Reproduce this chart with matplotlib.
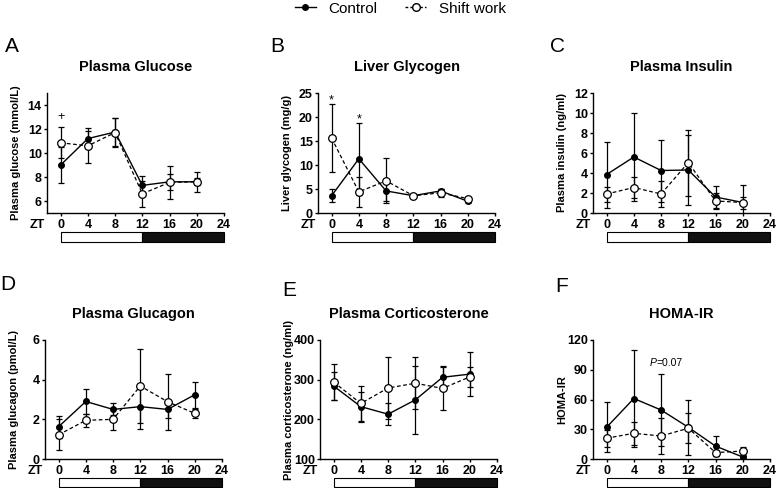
import matplotlib
matplotlib.use('Agg')
from matplotlib import pyplot as plt
from matplotlib.patches import Rectangle
from matplotlib.lines import Line2D
import matplotlib.transforms as mtransforms

plt.rcParams['font.family'] = ['Liberation Sans', 'DejaVu Sans']

# time points (ZT) and the six measured parameters: mean and SD per group
zt = [0, 4, 8, 12, 16, 20]
zt_ticks = [0, 4, 8, 12, 16, 20, 24]

glucose_ctrl = [9.0, 11.2, 11.75, 7.3, 7.6, 7.6]
glucose_ctrl_sd = [1.5, 0.6, 1.2, 0.8, 0.65, 0.3]
glucose_shift = [10.85, 10.6, 11.7, 6.6, 7.55, 7.6]
glucose_shift_sd = [1.3, 1.45, 1.2, 1.1, 1.4, 0.85]

glycogen_ctrl = [3.6, 11.3, 4.6, 3.6, 4.6, 2.45]
glycogen_ctrl_sd = [1.3, 7.5, 2.2, 0.3, 0.5, 0.3]
glycogen_shift = [15.6, 4.4, 6.7, 3.6, 4.2, 3.0]
glycogen_shift_sd = [7.1, 3.1, 4.7, 0.3, 0.8, 0.3]

insulin_ctrl = [3.85, 5.6, 4.25, 4.3, 1.6, 1.05]
insulin_ctrl_sd = [3.3, 4.4, 3.1, 3.5, 1.1, 0.6]
insulin_shift = [1.9, 2.55, 1.9, 5.05, 1.2, 1.05]
insulin_shift_sd = [0.75, 1.05, 1.3, 3.3, 0.8, 1.75]

glucagon_ctrl = [1.63, 2.9, 2.5, 2.64, 2.5, 3.24]
glucagon_ctrl_sd = [0.55, 0.65, 0.3, 1.14, 0.42, 0.66]
glucagon_shift = [1.22, 1.95, 2.0, 3.68, 2.89, 2.3]
glucagon_shift_sd = [0.78, 0.33, 0.54, 1.85, 1.42, 0.23]

cort_ctrl = [284, 232, 213, 249, 306, 314]
cort_ctrl_sd = [35, 38, 27, 85, 28, 56]
cort_shift = [294, 240, 279, 291, 278, 307]
cort_shift_sd = [46, 43, 78, 65, 54, 25]

homa_ctrl = [32, 61, 49.4, 32, 13, 2]
homa_ctrl_sd = [25, 49, 36, 28, 10, 1.5]
homa_shift = [21, 25.9, 23.2, 31, 6.5, 8]
homa_shift_sd = [8.6, 11.7, 18, 15, 3, 4]

W, H = 777, 488
fig = plt.figure(figsize=(W / 100, H / 100), dpi=100)


def make_axes(left, top, w=177, h=120):
    # axes placed in pixel units of the reference
    return fig.add_axes([left / W, 1 - (top + h) / H, w / W, h / H])


def draw_panel(ax, title, ylabel, ylim, yticks, ctrl, ctrl_sd, shift, shift_sd):
    ax.errorbar(zt, ctrl, yerr=ctrl_sd, fmt='o-', color='black', ms=4, lw=1.0,
                elinewidth=0.9, capsize=2.5, capthick=0.9, zorder=3)
    ax.errorbar(zt, shift, yerr=shift_sd, fmt='o--', color='black', mfc='white',
                mec='black', ms=5.5, mew=0.9, lw=0.9, dashes=(3, 2),
                elinewidth=0.9, capsize=2.5, capthick=0.9, zorder=4)
    ax.set_xlim(-2, 24)
    ax.set_ylim(*ylim)
    ax.set_xticks(zt_ticks)
    ax.set_yticks(yticks)
    for s in ['top', 'right']:
        ax.spines[s].set_visible(False)
    for s in ['left', 'bottom']:
        ax.spines[s].set_linewidth(1.0)
    ax.tick_params(axis='both', direction='out', length=2.5, width=1.0, labelsize=9)
    ax.tick_params(axis='y', pad=1.2)
    ax.tick_params(axis='x', pad=2)
    for lab in ax.get_xticklabels() + ax.get_yticklabels():
        lab.set_fontweight('bold')
    ax.set_title(title, fontsize=10.5, fontweight='bold', pad=16)
    ax.set_ylabel(ylabel, fontsize=8, fontweight='bold')
    ax.yaxis.set_label_coords(-0.145, 0.5)
    # "ZT" next to the x tick labels
    ax.annotate('ZT', xy=(0, 0), xycoords='axes fraction', xytext=(-7, -4.5),
                textcoords='offset points', ha='center', va='top',
                fontsize=9, fontweight='bold')
    # light / dark bar under the x axis
    trans = mtransforms.blended_transform_factory(ax.transData, ax.transAxes)
    ax.add_patch(Rectangle((0, -0.239), 12, 0.078, facecolor='white', edgecolor='black',
                           lw=0.8, transform=trans, clip_on=False))
    ax.add_patch(Rectangle((12, -0.239), 12, 0.078, facecolor='#111111', edgecolor='black',
                           lw=0.8, transform=trans, clip_on=False))


def mark(ax, x, y, s, drop):
    # drop: points from glyph centre to baseline
    ax.annotate(s, xy=(x, y), xytext=(0, -drop), textcoords='offset points',
                ha='center', va='baseline', fontsize=9)


axA = make_axes(47, 93)
draw_panel(axA, 'Plasma Glucose', 'Plasma glucose (mmol/L)', (5, 15), [6, 8, 10, 12, 14],
           glucose_ctrl, glucose_ctrl_sd, glucose_shift, glucose_shift_sd)
mark(axA, 0, 13.15, '+', 3.2)

axB = make_axes(318, 93)
draw_panel(axB, 'Liver Glycogen', 'Liver glycogen (mg/g)', (0, 25), [0, 5, 10, 15, 20, 25],
           glycogen_ctrl, glycogen_ctrl_sd, glycogen_shift, glycogen_shift_sd)
mark(axB, 0, 24.4, '*', 5.3)
mark(axB, 4, 20.4, '*', 5.3)

axC = make_axes(593, 93)
draw_panel(axC, 'Plasma Insulin', 'Plasma insulin (ng/ml)', (0, 12), [0, 2, 4, 6, 8, 10, 12],
           insulin_ctrl, insulin_ctrl_sd, insulin_shift, insulin_shift_sd)

axD = make_axes(45, 340, h=119)
draw_panel(axD, 'Plasma Glucagon', 'Plasma glucagon (pmol/L)', (0, 6), [0, 2, 4, 6],
           glucagon_ctrl, glucagon_ctrl_sd, glucagon_shift, glucagon_shift_sd)

axE = make_axes(320, 340, h=119)
draw_panel(axE, 'Plasma Corticosterone', 'Plasma corticosterone (ng/ml)', (100, 400),
           [100, 200, 300, 400], cort_ctrl, cort_ctrl_sd, cort_shift, cort_shift_sd)

axF = make_axes(593, 340, h=119)
draw_panel(axF, 'HOMA-IR', 'HOMA-IR', (0, 120), [0, 30, 60, 90, 120],
           homa_ctrl, homa_ctrl_sd, homa_shift, homa_shift_sd)
mark(axF, 4, 120.7, '*', 5.3)
p_txt = axF.text(6.3, 92, 'P', style='italic', fontsize=7.5, va='bottom', ha='left')
axF.annotate('=0.07', xy=(1, 0), xycoords=p_txt, va='bottom', ha='left', fontsize=7.5)

# panel letters
for letter, x, y in [('A', 5, 47), ('B', 270, 47), ('C', 550, 47),
                     ('D', 0, 285), ('E', 282, 290), ('F', 555, 287)]:
    fig.text(x / W, 1 - y / H, letter, fontsize=15, ha='left', va='center')

# legend at the top
handles = [Line2D([], [], color='black', marker='o', ms=4, lw=1.0),
           Line2D([], [], color='black', marker='o', mfc='white', ms=5.5, lw=1.0,
                  ls='--', dashes=(2, 1.5))]
fig.legend(handles, ['Control', 'Shift work'], loc='upper center',
           bbox_to_anchor=(0.515, 1.025), ncol=2, frameon=False, fontsize=11,
           handlelength=1.4, handletextpad=0.8, columnspacing=1.8)

fig.savefig('out.png', dpi=100)
